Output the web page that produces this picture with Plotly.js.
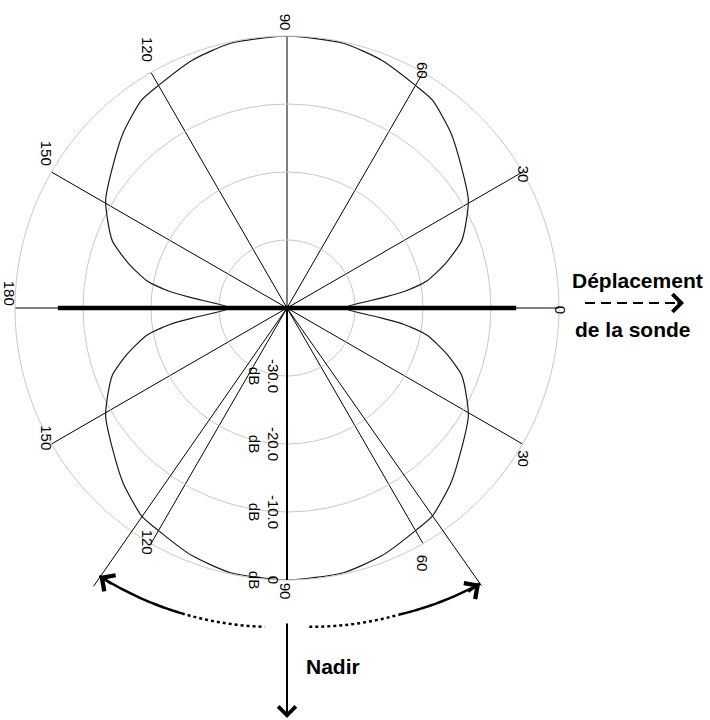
<!DOCTYPE html>
<html>
<head>
<meta charset="utf-8">
<script src="https://cdn.plot.ly/plotly-3.0.1.min.js"></script>
<style>
html,body{margin:0;padding:0;background:#fff;}
#chart{width:710px;height:720px;}
</style>
</head>
<body>
<div id="chart"></div>
<script>
// Radiation pattern (angle in degrees, level in dB)
var patternTheta = [0, 6, 8, 11, 16, 21, 27, 31, 39, 47, 55, 60, 69, 78, 90,
  102, 111, 120, 125, 133, 141, 149, 153, 159, 164, 169, 172, 174, 180,
  186, 188, 191, 196, 201, 207, 211, 219, 227, 235, 240, 249, 258, 270,
  282, 291, 300, 305, 313, 321, 329, 333, 339, 344, 349, 352, 354, 360];
var patternDb = [-31.6, -26.1, -22.6, -19.0, -15.6, -12.5, -10.3, -8.9, -7.0, -4.7, -2.7, -2.2, -1.0, -0.2, 0,
  -0.2, -1.0, -2.2, -2.7, -4.7, -7.0, -8.9, -10.3, -12.5, -15.6, -19.0, -22.6, -26.1, -31.6,
  -26.1, -22.6, -19.0, -15.6, -12.5, -10.3, -8.9, -7.0, -4.7, -2.7, -2.2, -1.0, -0.2, 0,
  -0.2, -1.0, -2.2, -2.7, -4.7, -7.0, -8.9, -10.3, -12.5, -15.6, -19.0, -22.6, -26.1, -31.6];

// Probe (sonde) bar along the track
var probeTheta = [180, 0, 0];
var probeDb = [-6.3, -40, -6.3];

// Swath edges (degrees) and their reach (dB)
var swathTheta = [235.2, 305];
var swathReach = 9.85;

// Curved swath arrows: angles (deg) and reach (dB) at each end; split where the stroke turns dotted
var arcLeftTheta = [235, 251, 266];
var arcLeftDb = [8.1, 7.5, 7.0];
var arcRightTheta = [274, 290, 305];
var arcRightDb = [7.0, 8.0, 9.5];

// Axis ticks
var angleTickVals = [0, 30, 60, 90, 120, 150, 180, 210, 240, 270, 300, 330];
var angleTickText = ["0", "30", "60", "90", "120", "150", "180", "150", "120", "90", "60", "30"];
var radialRange = [-40, 0];
var radialTickVals = [-30, -20, -10, 0];
var radialTickText = ["-30.0<br>dB", "-20.0<br>dB", "-10.0<br>dB", "0<br>dB"];

// ---- layout geometry ----
var W = 710, H = 720;
var CX = 287, CY = 308, RPX = 272;
var FONT = "Arial, 'Liberation Sans', sans-serif";

function toPaper(thetaDeg, db) {
  var rp = (db - radialRange[0]) / (radialRange[1] - radialRange[0]) * RPX;
  var a = thetaDeg * Math.PI / 180;
  return {x: (CX + rp * Math.cos(a)) / W, y: 1 - (CY - rp * Math.sin(a)) / H};
}
function arcPath(t0, t1, d0, d1) {
  var s = '';
  var n = Math.max(2, Math.round(Math.abs(t1 - t0) * 2));
  for (var i = 0; i <= n; i++) {
    var f = i / n;
    var p = toPaper(t0 + (t1 - t0) * f, d0 + (d1 - d0) * f);
    s += (i === 0 ? 'M' : 'L') + p.x.toFixed(5) + ',' + p.y.toFixed(5);
  }
  return s;
}

var traces = [];
traces.push({type: 'scatterpolar', mode: 'lines', theta: patternTheta, r: patternDb,
  line: {color: '#1a1a1a', width: 1.2, shape: 'spline', smoothing: 0.6}, hoverinfo: 'skip'});
traces.push({type: 'scatterpolar', mode: 'lines', theta: probeTheta, r: probeDb,
  line: {color: '#000', width: 4.5}, hoverinfo: 'skip'});

var shapes = [];
swathTheta.forEach(function (th) {
  var p0 = toPaper(th, radialRange[0]), p1 = toPaper(th, swathReach);
  shapes.push({type: 'line', xref: 'paper', yref: 'paper', x0: p0.x, y0: p0.y, x1: p1.x, y1: p1.y,
    line: {color: '#000', width: 1}});
});
shapes.push({type: 'path', xref: 'paper', yref: 'paper',
  path: arcPath(arcLeftTheta[0], arcLeftTheta[1], arcLeftDb[0], arcLeftDb[1]), line: {color: '#000', width: 2.5}});
shapes.push({type: 'path', xref: 'paper', yref: 'paper',
  path: arcPath(arcLeftTheta[1], arcLeftTheta[2], arcLeftDb[1], arcLeftDb[2]), line: {color: '#000', width: 2.5, dash: 'dot'}});
shapes.push({type: 'path', xref: 'paper', yref: 'paper',
  path: arcPath(arcRightTheta[0], arcRightTheta[1], arcRightDb[0], arcRightDb[1]), line: {color: '#000', width: 2.5, dash: 'dot'}});
shapes.push({type: 'path', xref: 'paper', yref: 'paper',
  path: arcPath(arcRightTheta[1], arcRightTheta[2], arcRightDb[1], arcRightDb[2]), line: {color: '#000', width: 2.5}});
shapes.push({type: 'line', xref: 'paper', yref: 'paper', x0: 585 / W, x1: 678 / W, y0: 1 - 303 / H, y1: 1 - 303 / H,
  line: {color: '#000', width: 2, dash: '10px,6px'}});

var tipL = toPaper(arcLeftTheta[0], arcLeftDb[0]);
var tipR = toPaper(arcRightTheta[2], arcRightDb[2]);
var aL = arcLeftTheta[0] * Math.PI / 180, aR = arcRightTheta[2] * Math.PI / 180;
var dL = [Math.sin(aL), Math.cos(aL)];
var dR = [-Math.sin(aR), -Math.cos(aR)];
var L = 16;

var annotations = [
  {xref: 'paper', yref: 'paper', x: tipL.x, y: tipL.y, ax: -dL[0] * L, ay: -dL[1] * L,
    showarrow: true, arrowhead: 4, arrowsize: 1.9, arrowwidth: 2, arrowcolor: '#000', text: ''},
  {xref: 'paper', yref: 'paper', x: tipR.x, y: tipR.y, ax: -dR[0] * L, ay: -dR[1] * L,
    showarrow: true, arrowhead: 4, arrowsize: 1.9, arrowwidth: 2, arrowcolor: '#000', text: ''},
  {xref: 'paper', yref: 'paper', x: 287 / W, y: 1 - 718 / H, ax: 0, ay: -96,
    showarrow: true, arrowhead: 4, arrowsize: 1.7, arrowwidth: 2, arrowcolor: '#000', text: ''},
  {xref: 'paper', yref: 'paper', x: 684 / W, y: 1 - 303 / H, ax: -8, ay: 0,
    showarrow: true, arrowhead: 4, arrowsize: 1.7, arrowwidth: 2, arrowcolor: '#000', text: ''},
  {xref: 'paper', yref: 'paper', x: 570 / W, y: 1 - 281 / H, xanchor: 'left', yanchor: 'middle',
    showarrow: false, text: 'Déplacement', font: {family: FONT, size: 21, color: '#000', weight: 'bold'}},
  {xref: 'paper', yref: 'paper', x: 573 / W, y: 1 - 330 / H, xanchor: 'left', yanchor: 'middle',
    showarrow: false, text: 'de la sonde', font: {family: FONT, size: 21, color: '#000', weight: 'bold'}},
  {xref: 'paper', yref: 'paper', x: 304 / W, y: 1 - 666 / H, xanchor: 'left', yanchor: 'middle',
    showarrow: false, text: 'Nadir', font: {family: FONT, size: 21, color: '#000', weight: 'bold'}}
];

var layout = {
  width: W, height: H,
  margin: {l: 0, r: 0, t: 0, b: 0, pad: 0},
  paper_bgcolor: '#fff',
  showlegend: false,
  font: {family: FONT, color: '#000'},
  polar: {
    domain: {x: [(CX - RPX) / W, (CX + RPX) / W], y: [1 - (CY + RPX) / H, 1 - (CY - RPX) / H]},
    bgcolor: '#fff',
    angularaxis: {
      tickmode: 'array', tickvals: angleTickVals, ticktext: angleTickText,
      tickangle: 90, ticks: '', showgrid: true, gridcolor: '#000', gridwidth: 1,
      showline: true, linecolor: '#c8c8c8', linewidth: 1,
      tickfont: {family: FONT, size: 15, color: '#000'}, direction: 'counterclockwise', rotation: 0
    },
    radialaxis: {
      range: radialRange, angle: 270, tickangle: 0, side: 'clockwise',
      tickmode: 'array', tickvals: radialTickVals, ticktext: radialTickText,
      ticks: '', showgrid: true, gridcolor: '#c8c8c8', gridwidth: 1,
      showline: true, linecolor: '#000', linewidth: 2,
      tickfont: {family: FONT, size: 15, color: '#000'}
    }
  },
  annotations: annotations,
  shapes: shapes
};

Plotly.newPlot('chart', traces, layout, {displayModeBar: false, staticPlot: true});
</script>
</body>
</html>
